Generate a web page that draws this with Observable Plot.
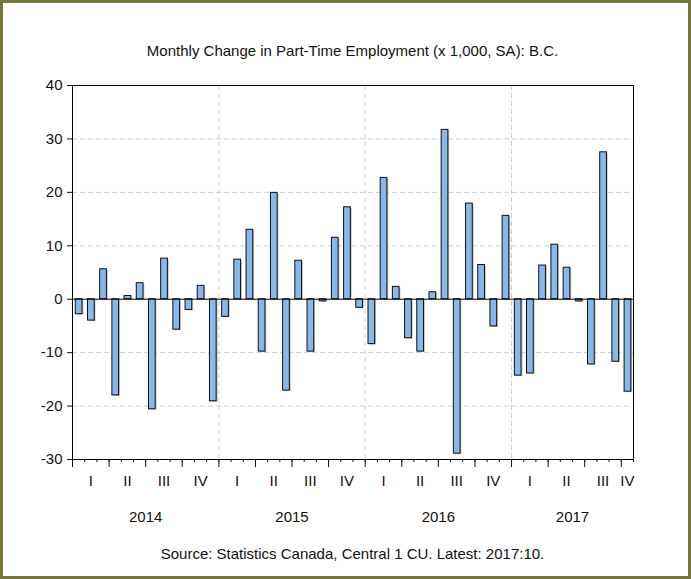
<!DOCTYPE html>
<html><head><meta charset="utf-8">
<script src="https://cdn.jsdelivr.net/npm/d3@7"></script>
<script src="https://cdn.jsdelivr.net/npm/@observablehq/plot@0.6"></script>
<style>
body{margin:0;background:#fff;}
#wrap{position:relative;width:691px;height:579px;font-family:"Liberation Sans",Arial,sans-serif;color:#111;}
#wrap svg{position:absolute;left:0;top:0;}
#border{position:absolute;left:0;top:0;width:691px;height:579px;box-sizing:border-box;border:3px solid #76763e;pointer-events:none;}
#title{position:absolute;left:72px;width:561px;top:42px;text-align:center;font-size:15px;line-height:17px;}
#source{position:absolute;left:72px;width:561px;top:545px;text-align:center;font-size:15px;line-height:17px;}
</style></head>
<body>
<div id="wrap">
  <div id="title"></div>
  <div id="chart"></div>
  <div id="source"></div>
  <div id="border"></div>
</div>
<script>
const titleText = "Monthly Change in Part-Time Employment (x 1,000, SA): B.C.";
const sourceText = "Source: Statistics Canada, Central 1 CU. Latest: 2017:10.";
const years = [2014, 2015, 2016, 2017];
const quarterLabels = ["I", "II", "III", "IV"];
// Monthly change, 2014:01 .. 2017:10 (thousands)
const values2014 = [-2.8, -4.0, 5.6, -18.0, 0.6, 3.0, -20.6, 7.6, -5.7, -2.0, 2.5, -19.1];
const values2015 = [-3.3, 7.4, 13.0, -9.8, 19.9, -17.1, 7.2, -9.8, -0.4, 11.5, 17.2, -1.6];
const values2016 = [-8.4, 22.7, 2.3, -7.3, -9.8, 1.3, 31.7, -28.9, 17.9, 6.4, -5.1, 15.6];
const values2017 = [-14.3, -13.9, 6.3, 10.2, 5.9, -0.4, -12.2, 27.5, -11.7, -17.3];
const yTicks = [-30, -20, -10, 0, 10, 20, 30, 40];

const values = [...values2014, ...values2015, ...values2016, ...values2017];
const n = values.length;
const data = values.map((v, i) => ({i, v}));

const quarters = [];
years.forEach((yr, yi) => {
  quarterLabels.forEach((q, qi) => {
    const s = yi * 12 + qi * 3;
    if (s < n) quarters.push({x: (s + Math.min(s + 3, n)) / 2, label: q});
  });
});
const yearPos = years.map((yr, yi) => ({x: (yi * 12 + Math.min(yi * 12 + 12, n)) / 2, label: String(yr)}));
const yearBounds = years.slice(1).map((yr, yi) => (yi + 1) * 12);

document.getElementById("title").textContent = titleText;
document.getElementById("source").textContent = sourceText;

const chart = Plot.plot({
  width: 691,
  height: 579,
  marginLeft: 72,
  marginRight: 58,
  marginTop: 85,
  marginBottom: 120,
  style: {fontFamily: "Liberation Sans, Arial, sans-serif", fontSize: "15px", background: "transparent", color: "#111"},
  x: {domain: [0, n], axis: null, label: null},
  y: {domain: [-30, 40], axis: null, label: null},
  marks: [
    Plot.ruleY(yTicks.filter(d => d !== 0 && d !== -30 && d !== 40), {stroke: "#cfcfcf", strokeDasharray: "5,3"}),
    Plot.ruleX(yearBounds, {stroke: "#cfcfcf", strokeDasharray: "5,3"}),
    Plot.rectY(data, {x1: d => d.i + 0.3, x2: d => d.i + 0.85, y1: 0, y2: "v", fill: "#8f8f8f", fillOpacity: 0.55, dx: 1, dy: 1}),
    Plot.rectY(data, {x1: d => d.i + 0.27, x2: d => d.i + 0.82, y1: 0, y2: "v", fill: "#8ab8e6", stroke: "#111", strokeWidth: 1}),
    Plot.ruleY([0], {stroke: "#000", strokeWidth: 1}),
    Plot.frame({stroke: "#000", strokeWidth: 1}),
    Plot.axisY({ticks: yTicks, tickSize: 5, tickPadding: 5, fontSize: 15, label: null, tickFormat: d => String(d)}),
    Plot.axisX({ticks: d3.range(0, n + 1), tickSize: 3, tickFormat: () => "", label: null}),
    Plot.axisX({ticks: d3.range(0, n + 1, 3), tickSize: 8, tickFormat: () => "", label: null}),
    Plot.text(quarters, {x: "x", text: "label", frameAnchor: "bottom", dy: 26, fontSize: 15}),
    Plot.text(yearPos, {x: "x", text: "label", frameAnchor: "bottom", dy: 62, fontSize: 15})
  ]
});
document.getElementById("chart").appendChild(chart);
</script>
</body></html>
